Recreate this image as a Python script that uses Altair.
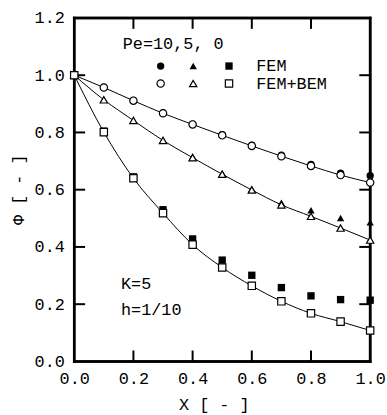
import altair as alt
import pandas as pd

# ---- data ----
x_vals = [0.0, 0.1, 0.2, 0.3, 0.4, 0.5, 0.6, 0.7, 0.8, 0.9, 1.0]
circ_open = [1.0, 0.957, 0.911, 0.867, 0.828, 0.790, 0.753, 0.717, 0.683, 0.651, 0.625]
circ_fill = [1.0, 0.957, 0.912, 0.868, 0.829, 0.792, 0.756, 0.721, 0.688, 0.658, 0.649]
tri_open = [1.0, 0.914, 0.842, 0.772, 0.712, 0.654, 0.599, 0.547, 0.507, 0.466, 0.424]
tri_fill = [1.0, 0.915, 0.843, 0.774, 0.716, 0.657, 0.603, 0.555, 0.528, 0.501, 0.486]
sq_open = [1.0, 0.801, 0.640, 0.518, 0.408, 0.328, 0.264, 0.210, 0.168, 0.139, 0.108]
sq_fill = [1.0, 0.805, 0.645, 0.530, 0.428, 0.354, 0.301, 0.258, 0.229, 0.216, 0.214]
series_names = ["Pe=10", "Pe=5", "Pe=0"]
shapes = ["circle", "triangle-up", "square"]
x_ticks = [0.0, 0.2, 0.4, 0.6, 0.8, 1.0]
y_ticks = [0.0, 0.2, 0.4, 0.6, 0.8, 1.0, 1.2]
inner_x_ticks = [0.2, 0.4, 0.6, 0.8]
inner_y_ticks = [0.2, 0.4, 0.6, 0.8, 1.0]
note_texts = ["Pe=10,5, 0", "FEM", "FEM+BEM", "K=5", "h=1/10"]
note_x = [0.164, 0.615, 0.615, 0.158, 0.158]
note_y = [1.108, 1.031, 0.969, 0.270, 0.178]
leg_marker_x = [0.292, 0.402, 0.523]

X0, X1, Y0, Y1 = 0.0, 1.0, 0.0, 1.2

rows = []
for name, op, fi in zip(series_names, [circ_open, tri_open, sq_open], [circ_fill, tri_fill, sq_fill]):
    for xv, a, b in zip(x_vals, op, fi):
        rows.append({"x": xv, "v": a, "series": name, "kind": "FEM+BEM"})
        rows.append({"x": xv, "v": b, "series": name, "kind": "FEM"})
df = pd.DataFrame(rows)
df_open = df[df.kind == "FEM+BEM"].reset_index(drop=True)
df_fill = df[df.kind == "FEM"].reset_index(drop=True)

W, H = 299, 347
FONT = "Liberation Mono"
FS = 17
TL = 11  # tick length in pixels
dx = TL / W * (X1 - X0)
dy = TL / H * (Y1 - Y0)

# frame and inward ticks as 2-point segments (built from the tick values)
seg = []
def add(sid, xa, ya, xb, yb):
    seg.append({"sid": sid, "i": 0, "sx": xa, "sy": ya})
    seg.append({"sid": sid, "i": 1, "sx": xb, "sy": yb})

add("fb", X0, Y0, X1, Y0)
add("fr", X1, Y0, X1, Y1)
add("ft", X1, Y1, X0, Y1)
add("fl", X0, Y1, X0, Y0)
frame_df = pd.DataFrame(seg)
seg = []
for k, t in enumerate(inner_x_ticks):
    add("b%d" % k, t, Y0, t, Y0 + dy)
    add("t%d" % k, t, Y1, t, Y1 - dy)
for k, t in enumerate(inner_y_ticks):
    add("l%d" % k, X0, t, X0 + dx, t)
    add("r%d" % k, X1, t, X1 - dx, t)
ticks_df = pd.DataFrame(seg)

xs = alt.Scale(domain=[X0, X1], nice=False)
ys = alt.Scale(domain=[Y0, Y1], nice=False)
shape_scale = alt.Scale(domain=series_names, range=shapes)

xenc = alt.X("x:Q", scale=xs, axis=alt.Axis(values=x_ticks, format=".1f", ticks=False, domain=False, grid=False,
                                            labelFlush=False,
                                            labelFont=FONT, labelFontSize=FS, labelColor="black", labelPadding=9,
                                            title="X [ - ]", titleFont=FONT, titleFontSize=FS, titleFontWeight="normal",
                                            titleColor="black", titleX=141, titleY=44, titleAlign="center",
                                            titleBaseline="middle"))
yenc = alt.Y("v:Q", scale=ys, axis=alt.Axis(values=y_ticks, format=".1f", ticks=False, domain=False, grid=False,
                                           labelFlush=False,
                                           labelFont=FONT, labelFontSize=FS, labelColor="black", labelPadding=10,
                                           title="Φ [ - ]", titleFont=FONT, titleFontSize=FS, titleFontWeight="normal",
                                           titleColor="black", titleX=-56, titleY=173, titleAlign="center",
                                           titleBaseline="middle", titleAngle=270))

filled = alt.Chart(df_fill).mark_point(filled=True, color="black", size=55, opacity=1).encode(
    x=xenc, y=yenc, shape=alt.Shape("series:N", scale=shape_scale, legend=None))
lines = alt.Chart(df_open).mark_line(color="black", strokeWidth=1, interpolate="monotone").encode(
    x=alt.X("x:Q", scale=xs), y=alt.Y("v:Q", scale=ys), detail="series:N")

frame = alt.Chart(frame_df).mark_line(color="black", strokeWidth=2.6, strokeCap="square").encode(
    x=alt.X("sx:Q", scale=xs), y=alt.Y("sy:Q", scale=ys), detail="sid:N", order="i:Q")
ticks = alt.Chart(ticks_df).mark_line(color="black", strokeWidth=2).encode(
    x=alt.X("sx:Q", scale=xs), y=alt.Y("sy:Q", scale=ys), detail="sid:N", order="i:Q")

opened = alt.Chart(df_open).mark_point(filled=True, fill="white", fillOpacity=1, stroke="black",
                                       strokeWidth=1.2, size=55, opacity=1).encode(
    x=alt.X("x:Q", scale=xs), y=alt.Y("v:Q", scale=ys),
    shape=alt.Shape("series:N", scale=shape_scale, legend=None))

# ---- annotation / legend block ----
leg = pd.DataFrame({"x": leg_marker_x, "series": series_names})
leg_fill = alt.Chart(leg).mark_point(filled=True, color="black", size=55, opacity=1).encode(
    x=alt.X("x:Q", scale=xs), y=alt.datum(1.032),
    shape=alt.Shape("series:N", scale=shape_scale, legend=None))
leg_open = alt.Chart(leg).mark_point(filled=True, fill="white", fillOpacity=1, stroke="black",
                                     strokeWidth=1.2, size=55, opacity=1).encode(
    x=alt.X("x:Q", scale=xs), y=alt.datum(0.971),
    shape=alt.Shape("series:N", scale=shape_scale, legend=None))

notes = pd.DataFrame({"label": note_texts, "nx": note_x, "ny": note_y})
texts = alt.Chart(notes).mark_text(font=FONT, fontSize=FS, color="black", align="left",
                                   baseline="middle").encode(
    x=alt.X("nx:Q", scale=xs), y=alt.Y("ny:Q", scale=ys), text="label:N")

panel = alt.layer(filled, lines, frame, ticks, opened, leg_fill, leg_open, texts).properties(
    width=W, height=H)

chart = alt.hconcat(panel, spacing=0).properties(
    padding={"left": 8, "top": 5, "right": 0, "bottom": 0},
).configure_view(stroke="black", strokeWidth=2.5)

chart.save("out.html", embed_options={"renderer": "svg", "actions": False})
